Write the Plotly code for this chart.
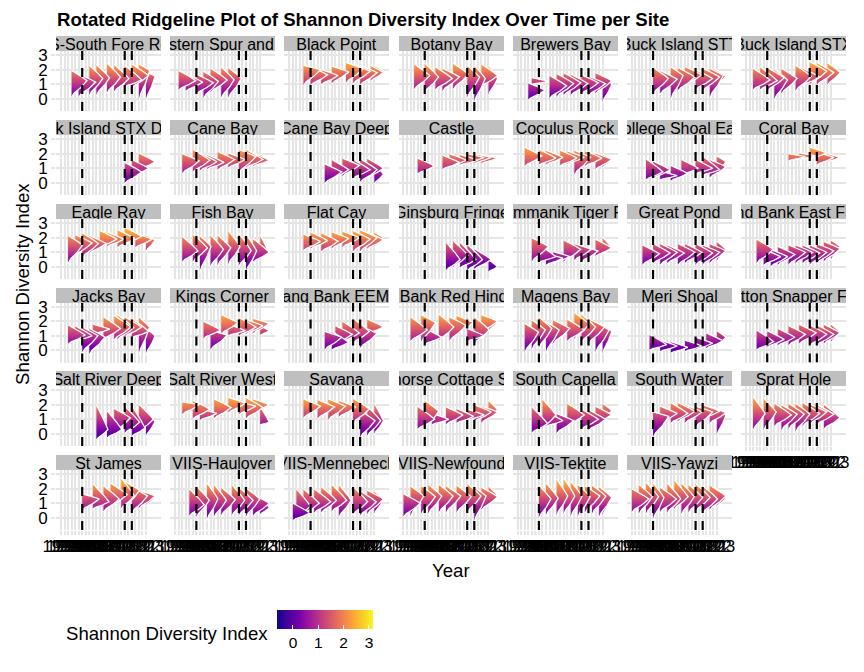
import plotly.graph_objects as go
import plotly.express as px

# Survey years on the shared discrete axis
YEARS = [1992, 1994, 1995, 1996, 1997, 1998, 1999, 2001, 2003, 2005, 2006, 2007, 2009,
         2010, 2011, 2012, 2013, 2015, 2017, 2018, 2019, 2020, 2021, 2022, 2023]
STORM_YEARS = [1999, 2017, 2019]

# Each site: survey years, then the ridge peak / lower end / upper end of the index
south_fore_years = [1996, 1998, 2003, 2006, 2010, 2012, 2017, 2019, 2021, 2023]
south_fore_peak = [1.25, 1.15, 1.4, 1.45, 1.5, 1.4, 1.3, 1.6, 1.95, 1.55]
south_fore_low = [0.1, 0.1, 0.2, 0.2, 0.35, 0.45, 0.8, 0.7, -0.2, -0.2]
south_fore_high = [1.95, 1.7, 2.3, 2.35, 2.45, 2.35, 2.3, 2.4, 2.4, 1.85]

western_spur_years = [1994, 1996, 1999, 2003, 2006, 2010, 2012]
western_spur_peak = [1.25, 1.15, 1.1, 1.2, 1.3, 1.3, 1.4]
western_spur_low = [0.6, 0.5, 0.3, 0.0, 0.4, 0.0, 0.0]
western_spur_high = [1.95, 1.7, 1.7, 1.9, 2.1, 2.2, 2.15]

black_point_years = [1997, 1999, 2005, 2009, 2013, 2017, 2019, 2022, 2023]
black_point_peak = [2.0, 1.65, 1.6, 1.85, 2.05, 1.9, 1.8, 1.8, 1.9]
black_point_low = [0.9, 0.9, 0.95, 1.0, 1.05, 1.0, 0.9, 1.2, 1.35]
black_point_high = [2.3, 2.2, 2.0, 2.25, 2.5, 2.4, 2.3, 2.3, 2.3]

botany_years = [1996, 1999, 2005, 2007, 2011, 2017, 2019, 2021, 2023]
botany_peak = [1.6, 1.5, 1.4, 1.5, 1.7, 1.5, 1.4, 1.6, 1.4]
botany_low = [0.6, 0.4, 0.6, 0.5, 0.6, 0.0, -0.3, 0.8, 0.2]
botany_high = [2.4, 2.45, 2.2, 2.1, 2.45, 2.3, 2.3, 2.4, 2.3]

brewers_years = [1996, 1997, 2005, 2007, 2010, 2012, 2017, 2019, 2021, 2023]
brewers_peak = [0.6, 1.2, 0.9, 1.05, 1.1, 1.05, 1.1, 1.05, 1.25, 1.0]
brewers_low = [-0.1, 1.0, 0.0, 0.1, 0.2, 0.2, 0.3, 0.2, 0.3, -0.3]
brewers_high = [1.1, 1.45, 1.6, 1.75, 1.8, 1.7, 1.65, 1.55, 1.8, 1.7]

buck_stt_years = [1999, 2003, 2007, 2010, 2012, 2017, 2019, 2021, 2022, 2023]
buck_stt_peak = [1.4, 1.35, 1.6, 1.5, 1.65, 1.4, 1.5, 1.6, 1.55, 1.6]
buck_stt_low = [0.3, 0.3, -0.1, 0.5, 0.9, 0.6, 0.5, 0.0, 0.8, 0.9]
buck_stt_high = [2.15, 1.95, 2.2, 2.15, 2.2, 2.0, 2.1, 2.1, 2.1, 2.0]

buck_stx_years = [1995, 1997, 1999, 2003, 2006, 2011, 2013, 2017, 2019, 2022]
buck_stx_peak = [1.3, 1.25, 1.45, 1.3, 1.4, 1.55, 1.5, 1.9, 1.8, 1.8]
buck_stx_low = [0.6, 0.6, 0.5, -0.1, 0.3, 0.5, 0.9, 0.9, 0.9, 0.9]
buck_stx_high = [2.1, 2.2, 2.15, 2.05, 2.1, 2.3, 2.1, 2.55, 2.5, 2.5]

buck_deep_years = [2017, 2019, 2021]
buck_deep_peak = [0.75, 1.0, 1.45]
buck_deep_low = [-0.05, 0.4, 0.85]
buck_deep_high = [1.4, 1.6, 2.05]

cane_years = [1995, 1998, 2001, 2005, 2009, 2012, 2017, 2019, 2021, 2023]
cane_peak = [1.5, 1.55, 1.45, 1.4, 1.6, 1.6, 1.8, 1.6, 1.55, 1.5]
cane_low = [0.6, 0.7, 0.8, 0.9, 0.85, 1.0, 0.65, 1.0, 1.1, 1.2]
cane_high = [2.0, 2.3, 2.05, 1.95, 2.15, 2.05, 2.3, 2.3, 2.05, 2.0]

cane_deep_years = [2006, 2009, 2012, 2017, 2019, 2021, 2023]
cane_deep_peak = [0.75, 0.9, 1.2, 0.9, 0.9, 1.0, 0.6]
cane_deep_low = [-0.05, 0.2, 0.4, 0.3, 0.0, 0.3, -0.1]
cane_deep_high = [1.3, 1.6, 1.7, 1.6, 1.65, 1.7, 1.3]

castle_years = [1997, 2007, 2010, 2013, 2017, 2019, 2021]
castle_peak = [1.15, 1.4, 1.55, 1.55, 1.75, 1.75, 1.7]
castle_low = [0.6, 0.9, 1.1, 1.2, 1.3, 1.3, 1.3]
castle_high = [1.7, 1.9, 2.0, 1.95, 2.0, 2.0, 1.95]

coculus_years = [1995, 1999, 2003, 2009, 2011, 2013, 2018, 2021, 2023]
coculus_peak = [1.85, 1.7, 1.75, 1.7, 1.75, 1.75, 1.7, 1.6, 1.55]
coculus_low = [1.1, 1.2, 1.2, 1.15, 1.25, 0.5, 1.1, 0.9, 1.0]
coculus_high = [2.45, 2.3, 2.25, 2.25, 2.2, 2.25, 2.2, 2.05, 2.0]

college_years = [1997, 1999, 2003, 2007, 2011, 2017, 2019, 2021, 2023]
college_peak = [0.75, 0.9, 0.5, 0.65, 1.0, 1.0, 0.9, 1.1, 1.45]
college_low = [0.2, 0.25, 0.2, 0.1, 0.5, 0.6, 0.5, 0.3, 0.6]
college_high = [1.65, 1.5, 0.8, 1.2, 1.6, 1.6, 1.85, 1.6, 1.85]

coral_years = [2009, 2012, 2017, 2019, 2022]
coral_peak = [1.8, 1.85, 2.05, 1.75, 1.75]
coral_low = [1.5, 1.6, 1.6, 1.2, 1.4]
coral_high = [2.0, 2.05, 2.45, 2.1, 2.0]

eagle_years = [1995, 1997, 1999, 2003, 2007, 2010, 2013, 2017, 2020, 2023]
eagle_peak = [1.5, 1.65, 1.6, 1.6, 1.9, 1.9, 1.95, 2.1, 1.9, 1.85]
eagle_low = [0.2, 0.7, 0.6, 0.9, 1.3, 1.35, 1.3, 1.5, 1.3, 1.0]
eagle_high = [2.15, 2.2, 2.35, 2.15, 2.5, 2.4, 2.55, 2.7, 2.3, 2.2]

fish_years = [1995, 1998, 2001, 2006, 2009, 2012, 2017, 2019, 2021, 2023]
fish_peak = [1.1, 1.3, 1.4, 1.2, 1.3, 1.4, 1.1, 1.1, 1.0, 0.9]
fish_low = [0.3, 0.3, -0.4, 0.0, 0.05, 0.1, 0.0, -0.4, 0.3, 0.6]
fish_high = [2.1, 2.25, 2.15, 2.2, 2.2, 2.5, 2.3, 2.25, 1.95, 2.2]

flat_years = [1997, 1999, 2005, 2009, 2012, 2017, 2019, 2021, 2023]
flat_peak = [1.75, 1.8, 1.75, 1.95, 2.0, 1.9, 2.0, 1.85, 2.0]
flat_low = [1.1, 1.2, 1.0, 1.2, 1.3, 1.0, 1.0, 1.2, 1.3]
flat_high = [2.25, 2.4, 2.35, 2.4, 2.45, 2.5, 2.55, 2.4, 2.4]

ginsburg_years = [2009, 2011, 2013, 2017, 2019, 2023]
ginsburg_peak = [0.5, 0.8, 0.5, 0.5, 0.5, 0.0]
ginsburg_low = [-0.3, -0.1, -0.1, -0.3, -0.2, -0.35]
ginsburg_high = [1.7, 1.8, 1.7, 1.55, 1.25, 0.5]

tiger_years = [1997, 1999, 2003, 2006, 2010, 2013, 2017, 2021, 2023]
tiger_peak = [1.4, 0.7, 0.6, 0.7, 1.2, 1.2, 1.1, 1.3, 1.3]
tiger_low = [0.3, 0.3, 0.1, 0.25, 0.3, 0.4, 0.3, 0.7, 0.85]
tiger_high = [2.0, 1.5, 0.9, 1.05, 1.85, 1.6, 1.4, 1.9, 2.05]

great_pond_years = [1996, 1999, 2003, 2006, 2010, 2012, 2017, 2019, 2021, 2023]
great_pond_peak = [0.9, 0.95, 1.0, 0.95, 1.0, 1.0, 0.95, 1.0, 1.1, 1.2]
great_pond_low = [0.1, 0.2, 0.1, 0.2, 0.1, 0.2, 0.1, 0.1, 0.2, 0.3]
great_pond_high = [1.5, 1.6, 1.6, 1.5, 1.6, 1.6, 1.6, 1.5, 1.6, 1.75]

hind_east_years = [1996, 1998, 2001, 2005, 2009, 2011, 2013, 2017, 2019, 2021, 2023]
hind_east_peak = [1.2, 0.7, 0.7, 0.85, 1.0, 1.0, 0.95, 1.0, 1.1, 1.25, 1.4]
hind_east_low = [0.2, 0.1, 0.0, 0.1, 0.1, 0.2, 0.2, 0.1, 0.2, 0.3, 0.4]
hind_east_high = [1.9, 1.2, 1.2, 1.4, 1.5, 1.5, 1.5, 1.5, 1.6, 1.75, 1.85]

jacks_years = [1995, 1997, 1999, 2003, 2005, 2009, 2012, 2013, 2017, 2019, 2021, 2023]
jacks_peak = [1.05, 1.0, 1.0, 0.9, 1.45, 1.5, 1.6, 1.55, 1.6, 1.3, 1.6, 1.0]
jacks_low = [0.4, 0.6, -0.2, -0.3, 1.1, 0.7, 0.7, 0.7, 0.9, 0.85, -0.35, -0.35]
jacks_high = [1.75, 1.7, 1.6, 1.5, 1.8, 2.3, 2.4, 2.45, 2.3, 2.2, 2.3, 1.5]

kings_years = [2003, 2006, 2010, 2012, 2017, 2019, 2021, 2023]
kings_peak = [1.4, 1.05, 1.9, 1.35, 1.6, 1.7, 1.85, 1.35]
kings_low = [0.8, 0.0, 1.1, 1.0, 0.95, 1.05, 1.1, 1.0]
kings_high = [2.0, 1.35, 2.45, 1.8, 2.25, 2.1, 2.2, 1.7]

lang_eemp_years = [2006, 2009, 2010, 2012, 2017, 2019, 2021]
lang_eemp_peak = [0.9, 0.55, 1.1, 1.2, 1.3, 1.15, 1.6]
lang_eemp_low = [0.0, 0.0, 0.4, 0.5, 0.45, 0.1, 1.1]
lang_eemp_high = [1.3, 1.3, 1.7, 2.0, 2.2, 1.7, 2.15]

lang_hind_years = [1995, 1998, 1999, 2006, 2010, 2012, 2017, 2019, 2021, 2023]
lang_hind_peak = [1.4, 1.9, 0.9, 1.6, 1.7, 1.9, 1.0, 1.4, 2.0, 1.9]
lang_hind_low = [0.6, 0.5, 0.4, 0.6, 0.6, 1.1, 0.6, 0.4, 1.2, 1.3]
lang_hind_high = [2.3, 2.45, 1.5, 2.5, 2.3, 2.4, 1.5, 2.3, 2.45, 2.3]

magens_years = [1995, 1997, 1999, 2003, 2006, 2011, 2013, 2017, 2019, 2021, 2023]
magens_peak = [1.25, 1.4, 1.5, 1.4, 1.5, 1.4, 1.8, 1.6, 1.6, 1.4, 1.3]
magens_low = [-0.2, 0.0, 0.1, -0.2, 0.4, 0.6, 0.7, 0.5, 0.4, -0.2, -0.3]
magens_high = [1.85, 2.1, 2.3, 1.95, 2.1, 2.15, 2.6, 2.5, 2.15, 1.9, 1.8]

meri_years = [1998, 2003, 2007, 2012, 2017, 2020, 2023]
meri_peak = [0.4, 0.3, 0.2, 0.3, 0.5, 0.65, 0.9]
meri_low = [0.0, -0.1, -0.2, -0.1, 0.0, 0.1, 0.3]
meri_high = [1.1, 0.7, 0.6, 0.7, 0.9, 1.2, 1.35]

mutton_years = [1996, 1999, 2005, 2009, 2012, 2017, 2019, 2021, 2023]
mutton_peak = [0.6, 0.75, 0.9, 1.1, 1.2, 1.1, 1.1, 1.2, 1.25]
mutton_low = [0.0, 0.2, 0.3, 0.3, 0.4, 0.3, 0.3, 0.4, 0.5]
mutton_high = [1.4, 1.35, 1.5, 1.7, 1.8, 1.75, 1.75, 1.8, 1.8]

salt_deep_years = [2006, 2010, 2012, 2017, 2019, 2021, 2023]
salt_deep_peak = [0.3, 0.3, 1.1, 0.8, 0.4, 1.0, 0.85]
salt_deep_low = [-0.45, -0.3, 0.0, 0.0, -0.2, 0.1, -0.25]
salt_deep_high = [2.0, 1.6, 1.75, 1.9, 1.95, 2.05, 1.5]

salt_west_years = [1995, 1998, 2001, 2007, 2012, 2017, 2019, 2021, 2023]
salt_west_peak = [2.0, 1.7, 1.4, 1.8, 2.1, 1.9, 1.8, 2.0, 0.8]
salt_west_low = [1.3, 1.0, 0.9, 1.0, 1.4, 1.3, 1.0, 1.4, 0.6]
salt_west_high = [2.2, 2.3, 1.7, 2.4, 2.5, 2.2, 2.5, 2.4, 1.9]

savana_years = [1997, 2003, 2007, 2011, 2017, 2019, 2021, 2023]
savana_peak = [1.9, 1.85, 1.9, 1.85, 1.7, 0.9, 0.9, 0.9]
savana_low = [1.05, 1.0, 0.9, 1.1, 0.7, -0.3, -0.2, -0.1]
savana_high = [2.4, 2.35, 2.4, 2.3, 2.45, 1.6, 1.9, 2.1]

seahorse_years = [1997, 1999, 2003, 2009, 2012, 2017, 2019, 2021, 2023]
seahorse_peak = [1.0, 1.55, 1.0, 1.3, 1.2, 1.3, 1.5, 1.5, 1.65]
seahorse_low = [0.3, 0.3, 0.6, 0.6, 0.7, 0.9, 0.8, 0.7, 1.1]
seahorse_high = [1.9, 2.3, 1.4, 1.85, 1.75, 1.7, 2.0, 1.9, 2.3]

capella_years = [1997, 2001, 2003, 2007, 2011, 2017, 2019, 2021, 2023]
capella_peak = [0.7, 1.3, 0.9, 0.9, 1.3, 1.0, 1.0, 1.3, 1.6]
capella_low = [0.05, 0.3, 0.5, 0.0, 0.5, 0.3, 0.2, 0.7, 0.9]
capella_high = [1.85, 2.4, 1.5, 1.4, 2.1, 1.7, 1.65, 1.9, 2.1]

south_water_years = [1999, 2003, 2007, 2010, 2012, 2017, 2019, 2021, 2023]
south_water_peak = [1.2, 1.4, 1.4, 1.55, 1.5, 1.5, 1.55, 1.45, 1.3]
south_water_low = [-0.3, 0.7, 0.7, 0.8, 0.7, 0.4, 1.0, 0.7, -0.2]
south_water_high = [1.5, 1.9, 2.15, 2.15, 2.0, 1.9, 2.0, 1.85, 1.7]

sprat_years = [1995, 1998, 2003, 2006, 2009, 2011, 2013, 2017, 2019, 2021]
sprat_peak = [1.4, 1.5, 1.3, 1.35, 1.35, 1.35, 1.4, 1.5, 1.35, 1.1]
sprat_low = [0.2, 0.2, 0.5, 0.2, 0.3, 0.1, 0.5, 0.6, 0.6, 0.3]
sprat_high = [2.55, 2.45, 2.1, 2.0, 2.1, 2.1, 2.15, 2.05, 2.0, 2.05]

st_james_years = [1999, 2005, 2009, 2011, 2015, 2017, 2019, 2021, 2023]
st_james_peak = [1.3, 1.1, 1.3, 1.6, 1.5, 1.9, 1.5, 1.5, 1.4]
st_james_low = [0.5, 0.6, 0.4, 0.7, 0.6, 0.6, 0.3, 0.6, 0.8]
st_james_high = [1.65, 2.35, 2.2, 2.4, 2.75, 2.5, 2.1, 1.9, 1.75]

haulover_years = [1997, 1999, 2005, 2007, 2010, 2013, 2017, 2019, 2021, 2023]
haulover_peak = [0.9, 1.2, 1.3, 1.2, 1.25, 1.2, 1.2, 1.3, 1.0, 0.7]
haulover_low = [0.1, 0.0, -0.2, 0.0, 0.1, 0.1, 0.1, 0.0, 0.1, 0.2]
haulover_high = [2.0, 2.2, 2.4, 2.3, 2.1, 2.3, 2.1, 2.05, 1.6, 1.5]

mennebeck_years = [1994, 1995, 1997, 2001, 2005, 2009, 2011, 2017, 2019, 2021, 2023]
mennebeck_peak = [0.35, 0.8, 1.0, 1.1, 1.2, 1.2, 1.2, 1.1, 1.1, 1.3, 1.25]
mennebeck_low = [-0.2, 0.0, 0.2, 0.3, 0.3, 0.4, 0.0, 0.2, 0.1, 0.2, 0.2]
mennebeck_high = [1.0, 2.0, 2.0, 2.0, 2.15, 2.3, 2.3, 2.15, 1.85, 1.9, 1.85]

newfound_years = [1992, 1995, 1998, 2001, 2006, 2009, 2012, 2017, 2019, 2021, 2023]
newfound_peak = [1.0, 1.5, 1.45, 1.5, 1.5, 1.5, 1.45, 1.5, 1.5, 1.45, 1.5]
newfound_low = [0.05, 0.05, 0.2, 0.2, 0.3, 0.3, 0.3, 0.3, -0.3, 0.5, 0.8]
newfound_high = [1.65, 2.2, 2.2, 2.3, 2.3, 2.2, 2.25, 2.35, 2.1, 2.1, 2.2]

tektite_years = [1999, 2003, 2007, 2010, 2012, 2015, 2018, 2020, 2022, 2023]
tektite_peak = [1.3, 1.35, 1.5, 1.5, 1.5, 1.45, 1.5, 1.5, 1.4, 1.35]
tektite_low = [-0.1, 0.1, 0.1, 0.2, 0.0, 0.0, 0.3, 0.2, 0.0, 0.1]
tektite_high = [2.25, 2.4, 2.65, 2.75, 2.5, 2.3, 2.2, 2.25, 2.15, 2.0]

yawzi_years = [1992, 1995, 1997, 1999, 2003, 2006, 2009, 2011, 2013, 2017, 2019, 2021, 2023]
yawzi_peak = [1.3, 1.45, 1.45, 1.4, 1.3, 1.3, 1.45, 1.45, 1.4, 1.4, 1.3, 1.5, 1.35]
yawzi_low = [0.35, 0.2, 0.2, -0.2, 0.35, 0.3, 0.55, 0.2, 0.3, 0.4, 0.3, 0.5, 0.75]
yawzi_high = [2.0, 2.3, 2.45, 2.4, 2.1, 2.4, 2.6, 2.4, 2.3, 2.35, 2.2, 2.25, 2.0]

SITES = [
    ("BIS-South Fore Reef", south_fore_years, south_fore_peak, south_fore_low, south_fore_high),
    ("BIS-Western Spur and Groove", western_spur_years, western_spur_peak, western_spur_low, western_spur_high),
    ("Black Point", black_point_years, black_point_peak, black_point_low, black_point_high),
    ("Botany Bay", botany_years, botany_peak, botany_low, botany_high),
    ("Brewers Bay", brewers_years, brewers_peak, brewers_low, brewers_high),
    ("Buck Island STT", buck_stt_years, buck_stt_peak, buck_stt_low, buck_stt_high),
    ("Buck Island STX", buck_stx_years, buck_stx_peak, buck_stx_low, buck_stx_high),
    ("Buck Island STX Deep", buck_deep_years, buck_deep_peak, buck_deep_low, buck_deep_high),
    ("Cane Bay", cane_years, cane_peak, cane_low, cane_high),
    ("Cane Bay Deep", cane_deep_years, cane_deep_peak, cane_deep_low, cane_deep_high),
    ("Castle", castle_years, castle_peak, castle_low, castle_high),
    ("Coculus Rock", coculus_years, coculus_peak, coculus_low, coculus_high),
    ("College Shoal East", college_years, college_peak, college_low, college_high),
    ("Coral Bay", coral_years, coral_peak, coral_low, coral_high),
    ("Eagle Ray", eagle_years, eagle_peak, eagle_low, eagle_high),
    ("Fish Bay", fish_years, fish_peak, fish_low, fish_high),
    ("Flat Cay", flat_years, flat_peak, flat_low, flat_high),
    ("Ginsburg Fringe", ginsburg_years, ginsburg_peak, ginsburg_low, ginsburg_high),
    ("Grammanik Tiger FSA", tiger_years, tiger_peak, tiger_low, tiger_high),
    ("Great Pond", great_pond_years, great_pond_peak, great_pond_low, great_pond_high),
    ("Hind Bank East FSA", hind_east_years, hind_east_peak, hind_east_low, hind_east_high),
    ("Jacks Bay", jacks_years, jacks_peak, jacks_low, jacks_high),
    ("Kings Corner", kings_years, kings_peak, kings_low, kings_high),
    ("Lang Bank EEMP", lang_eemp_years, lang_eemp_peak, lang_eemp_low, lang_eemp_high),
    ("Lang Bank Red Hind FSA", lang_hind_years, lang_hind_peak, lang_hind_low, lang_hind_high),
    ("Magens Bay", magens_years, magens_peak, magens_low, magens_high),
    ("Meri Shoal", meri_years, meri_peak, meri_low, meri_high),
    ("Mutton Snapper FSA", mutton_years, mutton_peak, mutton_low, mutton_high),
    ("Salt River Deep", salt_deep_years, salt_deep_peak, salt_deep_low, salt_deep_high),
    ("Salt River West", salt_west_years, salt_west_peak, salt_west_low, salt_west_high),
    ("Savana", savana_years, savana_peak, savana_low, savana_high),
    ("Seahorse Cottage Shoal", seahorse_years, seahorse_peak, seahorse_low, seahorse_high),
    ("South Capella", capella_years, capella_peak, capella_low, capella_high),
    ("South Water", south_water_years, south_water_peak, south_water_low, south_water_high),
    ("Sprat Hole", sprat_years, sprat_peak, sprat_low, sprat_high),
    ("St James", st_james_years, st_james_peak, st_james_low, st_james_high),
    ("VIIS-Haulover", haulover_years, haulover_peak, haulover_low, haulover_high),
    ("VIIS-Mennebeck", mennebeck_years, mennebeck_peak, mennebeck_low, mennebeck_high),
    ("VIIS-Newfound", newfound_years, newfound_peak, newfound_low, newfound_high),
    ("VIIS-Tektite", tektite_years, tektite_peak, tektite_low, tektite_high),
    ("VIIS-Yawzi", yawzi_years, yawzi_peak, yawzi_low, yawzi_high),
]

W, H = 864, 672
FONT = "Liberation Sans"
GRID = "#E5E5E5"
PANEL_LEFT = [56 + 114.17 * c for c in range(7)]
STRIP_TOP = [36, 120, 204, 287.5, 371, 455]
PANEL_W, STRIP_H, PANEL_H = 105, 15, 60
COLOR_MIN, COLOR_MAX = -0.63, 3.16

# Rotated density outline: fraction of the way along the ridge, fraction of its width
LOWER_T = [0, 0.25, 0.6, 1]
LOWER_F = [0, 0.16, 0.62, 1]
UPPER_T = [0.35, 0.7, 1]
UPPER_F = [0.68, 0.3, 0]

fig = go.Figure()
layout = {}
annotations = []

for i, (name, years, peak, low, high) in enumerate(SITES):
    row, col = divmod(i, 7)
    n = i + 1
    suffix = "" if n == 1 else str(n)
    left, top = PANEL_LEFT[col], STRIP_TOP[row] + STRIP_H
    bottom_row = i + 7 >= len(SITES)

    layout[f"xaxis{suffix}"] = dict(
        domain=[left / W, (left + PANEL_W) / W], anchor=f"y{suffix}", range=[-1.4, 28.24],
        tickmode="array", tickvals=list(range(len(YEARS))), ticktext=[str(y) for y in YEARS],
        showticklabels=bottom_row, ticks="outside" if bottom_row else "", ticklen=4,
        tickcolor=GRID, tickwidth=1.6, tickangle=0, tickfont=dict(size=16.5, color="black"),
        ticklabelstandoff=-3, gridcolor=GRID, gridwidth=1.6, zeroline=False, showline=False,
    )
    layout[f"yaxis{suffix}"] = dict(
        domain=[1 - (top + PANEL_H) / H, 1 - top / H], anchor=f"x{suffix}", range=[-0.83, 3.28],
        tickvals=[0, 1, 2, 3], showticklabels=col == 0, ticks="outside" if col == 0 else "",
        ticklen=4, tickcolor=GRID, tickwidth=1.6, tickfont=dict(size=17, color="black"),
        gridcolor=GRID, gridwidth=1.6, zeroline=False, showline=False,
    )

    # Later years first so the earlier chevrons stay visible
    for year, p, lo, hi in reversed(list(zip(years, peak, low, high))):
        base = YEARS.index(year)
        width = min(4.8, max(3.0, 8.0 / (hi - lo)), 26.6 - base)
        xs = [base + width * f for f in LOWER_F] + [base + width * f for f in UPPER_F]
        ys = [lo + (p - lo) * t for t in LOWER_T] + [p + (hi - p) * t for t in UPPER_T]
        fig.add_trace(go.Scatter(
            x=xs, y=ys, mode="lines", fill="toself",
            line=dict(color="white", width=1.3),
            fillgradient=dict(type="vertical", colorscale=px.colors.sequential.Plasma,
                              start=COLOR_MIN, stop=COLOR_MAX),
            xaxis=f"x{suffix}", yaxis=f"y{suffix}", showlegend=False, hoverinfo="skip",
        ))

    # Storm markers sit on top of the ridges
    for storm in STORM_YEARS:
        fig.add_trace(go.Scatter(
            x=[YEARS.index(storm)] * 2, y=[-0.83, 3.28], mode="lines",
            line=dict(color="black", width=2.2, dash="9px,8px"),
            xaxis=f"x{suffix}", yaxis=f"y{suffix}", showlegend=False, hoverinfo="skip",
        ))

    annotations.append(dict(
        text=name, xref="paper", yref="paper", x=(left + PANEL_W / 2) / W,
        y=1 - (STRIP_TOP[row] + STRIP_H / 2) / H, xanchor="center", yanchor="middle",
        width=PANEL_W, height=STRIP_H, valign="top", bgcolor="#BFBFBF", borderpad=0, borderwidth=0,
        showarrow=False, font=dict(size=16, color="black"),
    ))

# Colour bar carried by an off-range marker
fig.add_trace(go.Scatter(
    x=[0], y=[9], mode="markers", showlegend=False, hoverinfo="skip",
    marker=dict(color=[0], cmin=COLOR_MIN, cmax=COLOR_MAX, colorscale="Plasma", showscale=True,
                colorbar=dict(orientation="h", lenmode="pixels", len=96, thickness=19,
                              xpad=0, ypad=0,
                              x=325 / W, xanchor="center", y=1 - 610 / H, yanchor="top",
                              outlinewidth=0, ticks="inside", tickcolor="white", ticklen=4,
                              tickvals=[0, 1, 2, 3], tickfont=dict(size=15.5, color="black"))),
))

annotations += [
    dict(text="<b>Rotated Ridgeline Plot of Shannon Diversity Index Over Time per Site</b>",
         xref="paper", yref="paper", x=55 / W, y=1 - 19 / H, xanchor="left", yanchor="middle",
         showarrow=False, font=dict(size=18.6, color="black")),
    dict(text="Shannon Diversity Index", xref="paper", yref="paper", x=22 / W, y=1 - 284 / H,
         xanchor="center", yanchor="middle", textangle=-90, showarrow=False,
         font=dict(size=18.6, color="black")),
    dict(text="Year", xref="paper", yref="paper", x=451 / W, y=1 - 570 / H,
         xanchor="center", yanchor="middle", showarrow=False, font=dict(size=18.6, color="black")),
    dict(text="Shannon Diversity Index", xref="paper", yref="paper", x=64 / W, y=1 - 633 / H,
         xanchor="left", yanchor="middle", showarrow=False, font=dict(size=18.6, color="black")),
]

fig.update_layout(
    width=W, height=H, margin=dict(l=0, r=0, t=0, b=0, autoexpand=False),
    plot_bgcolor="white", paper_bgcolor="white", font=dict(family=FONT, color="black"),
    annotations=annotations, **layout,
)

fig.write_html("out.html", config=dict(displayModeBar=False),
               post_script="document.body.style.margin = '0';")
